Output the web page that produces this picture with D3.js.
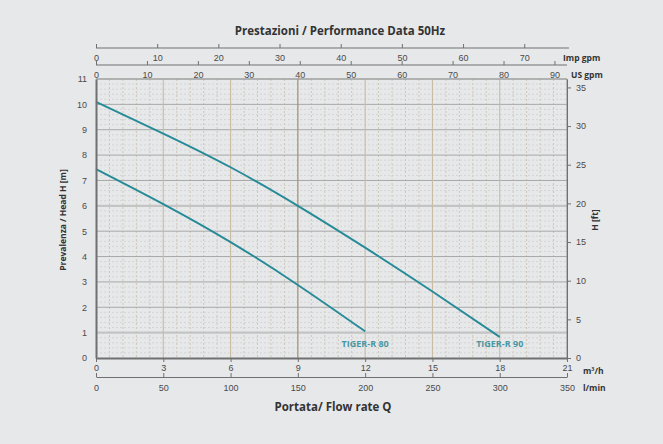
<!DOCTYPE html>
<html lang="en">
<head>
<meta charset="UTF-8">
<title>Prestazioni / Performance Data 50Hz</title>
<script src="https://d3js.org/d3.v7.min.js"></script>
<style>
    body { margin: 0; background: #e7e8ea; }
    svg { display: block; font-family: "Open Sans", sans-serif; }
    .tick text { fill: #4a4a4a; font-size: 9px; }
    .unit { fill: #333; font-size: 8.5px; font-weight: bold; }
    .axis-title { fill: #333; font-weight: bold; }
</style>
</head>
<body>
<div id="chart"></div>
<script>
    // chart data
    const flowTicks = [0, 3, 6, 9, 12, 15, 18, 21];            // m3/h
    const lminTicks = [0, 50, 100, 150, 200, 250, 300, 350];   // l/min
    const usTicks = [0, 10, 20, 30, 40, 50, 60, 70, 80, 90];   // US gpm
    const impTicks = [0, 10, 20, 30, 40, 50, 60, 70];          // Imp gpm
    const headTicks = [0, 1, 2, 3, 4, 5, 6, 7, 8, 9, 10, 11];  // m
    const ftTicks = [0, 5, 10, 15, 20, 25, 30, 35];            // ft

    const r80Flow = [0, 3, 6, 9, 12];
    const r80Head = [7.45, 6.07, 4.57, 2.88, 1.05];
    const r90Flow = [0, 3, 6, 9, 12, 15, 18];
    const r90Head = [10.1, 8.85, 7.52, 6.0, 4.35, 2.62, 0.83];

    const curves = [
        { name: "TIGER-R 80", flow: r80Flow, head: r80Head },
        { name: "TIGER-R 90", flow: r90Flow, head: r90Head }
    ];

    const width = 663, height = 444;
    const pL = 96, pR = 567, pT = 79, pB = 358;

    const svg = d3.select("#chart").append("svg")
        .attr("width", width)
        .attr("height", height);

    svg.append("rect").attr("width", width).attr("height", height).attr("fill", "#e7e8ea");

    const x = d3.scaleLinear().domain([0, 21]).range([pL, pR]);
    const xL = d3.scaleLinear().domain([0, 350]).range([pL, pR]);
    const xUS = d3.scaleLinear().domain([0, 21 * 4.4029]).range([pL, pR]);
    const xImp = d3.scaleLinear().domain([0, 21 * 3.6662]).range([pL, pR]);
    const y = d3.scaleLinear().domain([0, 11]).range([pB, pT]);
    const yFt = d3.scaleLinear().domain([0, 11 / 0.3048]).range([pB, pT]);

    // grid: minor dashed lines
    const grid = svg.append("g");
    grid.selectAll(".vminor")
        .data(d3.range(0, 351, 10).filter(d => d % 50 !== 0))
        .join("line")
        .attr("x1", d => xL(d)).attr("x2", d => xL(d))
        .attr("y1", pT).attr("y2", pB)
        .attr("stroke", "#d0c7b3").attr("stroke-width", 1)
        .attr("stroke-dasharray", "2,2");

    grid.selectAll(".hminor")
        .data(d3.range(0, 55).map(i => i * 0.2).filter((d, i) => i % 5 !== 0))
        .join("line")
        .attr("x1", pL).attr("x2", pR)
        .attr("y1", d => y(d)).attr("y2", d => y(d))
        .attr("stroke", "#d4d4d4").attr("stroke-width", 1)
        .attr("stroke-dasharray", "2,2");

    // major lines
    grid.selectAll(".hmajor")
        .data(headTicks.slice(1))
        .join("line")
        .attr("x1", pL).attr("x2", pR)
        .attr("y1", d => y(d)).attr("y2", d => y(d))
        .attr("stroke", d => (d === 1 || d === 6) ? "#c4c4c4" : "#a8a8a8")
        .attr("stroke-width", d => (d === 1 || d === 6) ? 2.2 : 1);

    grid.selectAll(".vmajor")
        .data(flowTicks.slice(1, -1))
        .join("line")
        .attr("x1", d => x(d)).attr("x2", d => x(d))
        .attr("y1", pT).attr("y2", pB)
        .attr("stroke", d => d === 9 ? "#a39578" : "#c9bca2")
        .attr("stroke-width", d => d === 9 ? 1.3 : 1.1);

    // frame
    svg.append("line").attr("x1", pL).attr("x2", pR).attr("y1", pT).attr("y2", pT)
        .attr("stroke", "#9a9a9a").attr("stroke-width", 1);
    svg.append("line").attr("x1", pR).attr("x2", pR).attr("y1", pT).attr("y2", pB)
        .attr("stroke", "#8a8a8a").attr("stroke-width", 1);

    // curves
    const line = d3.line()
        .x(d => x(d[0]))
        .y(d => y(d[1]))
        .curve(d3.curveNatural);

    svg.append("g").selectAll("path")
        .data(curves)
        .join("path")
        .attr("d", c => line(c.flow.map((f, i) => [f, c.head[i]])))
        .attr("fill", "none")
        .attr("stroke", "#268b97")
        .attr("stroke-width", 1.9);

    // model names sit on a common baseline just above the flow axis
    svg.append("g").selectAll("text")
        .data(curves)
        .join("text")
        .attr("x", c => x(c.flow[c.flow.length - 1]))
        .attr("y", y(0.45))
        .attr("text-anchor", "middle")
        .attr("fill", "#4a97a2")
        .attr("font-size", 9)
        .attr("font-weight", "bold")
        .text(c => c.name);

    // axes
    function styleAxis(g, color) {
        g.select(".domain").attr("stroke", color);
        g.selectAll(".tick line").attr("stroke", color);
    }

    // left: head in m
    svg.append("g")
        .attr("transform", `translate(${pL},0)`)
        .call(d3.axisLeft(y).tickValues(headTicks).tickSize(0).tickPadding(9))
        .call(g => g.select(".domain").attr("stroke", "#707070").attr("stroke-width", 2));

    // right: head in ft
    svg.append("g")
        .attr("transform", `translate(${pR},0)`)
        .call(d3.axisRight(yFt).tickValues(ftTicks).tickSize(4).tickSizeOuter(0).tickPadding(5))
        .call(g => styleAxis(g, "#707070"));

    // bottom: m3/h
    svg.append("g")
        .attr("transform", `translate(0,${pB})`)
        .call(d3.axisBottom(x).tickValues(flowTicks).tickSize(4).tickSizeOuter(0).tickPadding(3))
        .call(g => styleAxis(g, "#707070"))
        .call(g => g.select(".domain").attr("stroke-width", 2));

    // bottom: l/min
    svg.append("g")
        .attr("transform", `translate(0,377)`)
        .call(d3.axisTop(xL).tickValues(lminTicks).tickSize(4).tickSizeOuter(0))
        .call(g => styleAxis(g, "#707070"))
        .call(g => g.selectAll(".tick text").attr("dy", null).attr("y", 14));

    // top: Imp gpm
    svg.append("g")
        .attr("transform", `translate(0,48)`)
        .call(d3.axisTop(xImp).tickValues(impTicks).tickSize(4).tickSizeOuter(0))
        .call(g => styleAxis(g, "#707070"))
        .call(g => g.select(".domain").attr("d", `M${pL},0H${pR + 2}`))
        .call(g => g.selectAll(".tick text").attr("dy", null).attr("y", 13));

    // top: US gpm
    svg.append("g")
        .attr("transform", `translate(0,65)`)
        .call(d3.axisTop(xUS).tickValues(usTicks).tickSize(4).tickSizeOuter(0))
        .call(g => styleAxis(g, "#707070"))
        .call(g => g.select(".domain").attr("d", `M${pL},0H${pR}`))
        .call(g => g.selectAll(".tick text").attr("dy", null).attr("y", 13));

    // unit labels
    svg.append("text").attr("class", "unit").attr("x", 563).attr("y", 61).text("Imp gpm");
    svg.append("text").attr("class", "unit").attr("x", 571).attr("y", 78).text("US gpm");
    svg.append("text").attr("class", "unit").attr("x", 583).attr("y", 374).text("m³/h");
    svg.append("text").attr("class", "unit").attr("x", 583).attr("y", 391).text("l/min");

    // titles
    svg.append("text").attr("class", "axis-title")
        .attr("x", 340).attr("y", 35).attr("text-anchor", "middle")
        .attr("font-size", 11.5)
        .text("Prestazioni / Performance Data 50Hz");

    svg.append("text").attr("class", "axis-title")
        .attr("x", 333).attr("y", 411).attr("text-anchor", "middle")
        .attr("font-size", 11.5)
        .text("Portata/ Flow rate Q");

    svg.append("text").attr("class", "axis-title")
        .attr("transform", "translate(66,220) rotate(-90)")
        .attr("text-anchor", "middle")
        .attr("font-size", 8.5)
        .text("Prevalenza / Head H [m]");

    svg.append("text").attr("class", "axis-title")
        .attr("transform", "translate(598,220) rotate(-90)")
        .attr("text-anchor", "middle")
        .attr("font-size", 8.5)
        .text("H [ft]");
</script>
</body>
</html>
